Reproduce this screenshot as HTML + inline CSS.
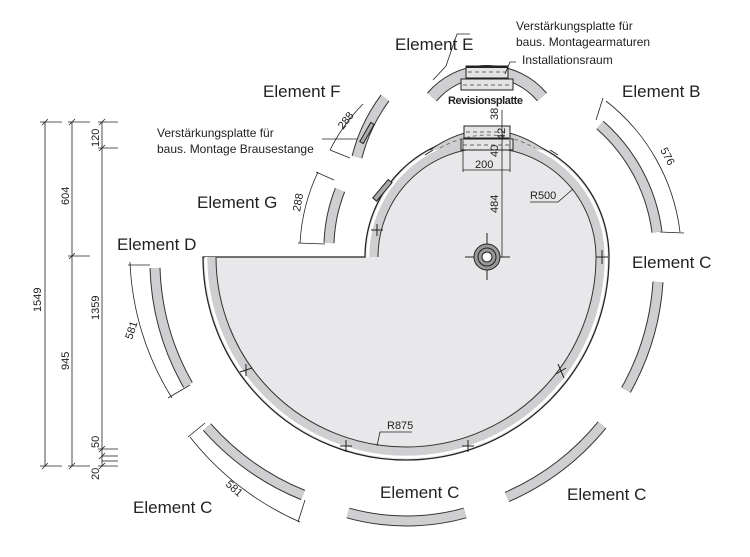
<!DOCTYPE html>
<html><head><meta charset="utf-8"><style>
html,body{margin:0;padding:0;background:#fff;}
svg{display:block;font-family:"Liberation Sans",sans-serif;}
.lbl{font-size:17px;fill:#222;}
.sm{font-size:12px;fill:#222;}
.dim{font-size:11px;fill:#222;}
</style></head><body>
<svg width="750" height="557" viewBox="0 0 750 557" xmlns="http://www.w3.org/2000/svg">
<!-- main shell -->
<path d="M203,257 L365,257 A122,122 0 0 1 609,257 A203,203 0 0 1 203,257 Z" fill="#e8e8ea" stroke="#222" stroke-width="1.3"/>
<path d="M373,257 A114,114 0 0 1 601,257 A195,195 0 0 1 211,257" fill="none" stroke="#333" stroke-width="11"/>
<path d="M373,257 A114,114 0 0 1 601,257 A195,195 0 0 1 211,257" fill="none" stroke="#cfcfd1" stroke-width="9"/>
<path d="M368,257 A119,119 0 0 1 606,257 A200,200 0 0 1 206,257" fill="none" stroke="#fff" stroke-width="2.5"/>
<!-- top bump on shell -->
<path d="M430,150 Q487,110 545,150" fill="#cfcfd1" stroke="#333" stroke-width="1"/>
<rect x="464" y="126" width="46" height="12" fill="#e4e4e4" stroke="#222" stroke-width="1"/>
<rect x="461" y="139" width="52" height="11" fill="#e4e4e4" stroke="#222" stroke-width="1"/>
<line x1="466" y1="132" x2="508" y2="132" stroke="#666" stroke-dasharray="4,3"/>
<line x1="463" y1="145" x2="511" y2="145" stroke="#666" stroke-dasharray="4,3"/>
<path d="M440,148 Q487,122 535,148" fill="none" stroke="#777" stroke-dasharray="4,3"/>
<!-- ticks on shell -->
<g stroke="#222" stroke-width="1">
<line x1="240" y1="372" x2="252" y2="368"/><line x1="246" y1="364" x2="246" y2="376"/>
<line x1="340" y1="446" x2="352" y2="446"/><line x1="346" y1="440" x2="346" y2="452"/>
<line x1="462" y1="446" x2="474" y2="446"/><line x1="468" y1="440" x2="468" y2="452"/>
<line x1="556" y1="374" x2="566" y2="368"/><line x1="558" y1="364" x2="564" y2="378"/>
<line x1="596" y1="257" x2="608" y2="257"/><line x1="602" y1="250" x2="602" y2="264"/>
<line x1="371" y1="230" x2="383" y2="230"/><line x1="377" y1="224" x2="377" y2="236"/>
<line x1="425" y1="155" x2="433" y2="150"/><line x1="550" y1="150" x2="558" y2="155"/>
</g>
<rect x="380" y="178" width="5" height="24" fill="#aaa" stroke="#222" transform="rotate(40 382 190)"/>
<!-- drain -->
<line x1="465" y1="257" x2="510" y2="257" stroke="#222"/>
<line x1="487" y1="233" x2="487" y2="280" stroke="#222"/>
<circle cx="487" cy="257" r="13" fill="#999" stroke="#222"/>
<circle cx="487" cy="257" r="9" fill="none" stroke="#222"/>
<circle cx="487" cy="257" r="5" fill="#fff" stroke="#222"/>
<!-- dims center -->
<line x1="502" y1="110" x2="502" y2="257" stroke="#222" stroke-width="0.8"/>
<line x1="463" y1="170" x2="510" y2="170" stroke="#222" stroke-width="0.8"/>
<line x1="463" y1="140" x2="463" y2="172" stroke="#222" stroke-width="0.8"/>
<line x1="510" y1="140" x2="510" y2="172" stroke="#222" stroke-width="0.8"/>
<text class="dim" x="475" y="168">200</text>
<text class="dim" transform="translate(498,213) rotate(-90)">484</text>
<text class="dim" transform="translate(498,120) rotate(-90)">38</text>
<text class="dim" transform="translate(505,140) rotate(-90)">42</text>
<text class="dim" transform="translate(498,157) rotate(-90)">40</text>
<text class="dim" x="530" y="199">R500</text>
<polyline points="530,202 558,202 573,189" fill="none" stroke="#222" stroke-width="0.8"/>
<text class="dim" x="387" y="429">R875</text>
<polyline points="412,432 380,432 377,446" fill="none" stroke="#222" stroke-width="0.8"/>
<!-- elements -->
<g fill="none">
<g stroke="#333" stroke-width="11">
<path d="M600,125 A172,172 0 0 1 657,232"/>
<path d="M658,282 A254,254 0 0 1 626,390"/>
<path d="M602,425 A256,256 0 0 1 507,497"/>
<path d="M465,513 A218,218 0 0 1 348,513"/>
<path d="M207,427 A258,258 0 0 0 303,495"/>
<path d="M155,268 A252,252 0 0 0 188,385"/>
<path d="M340,190 A160,160 0 0 0 329,243"/>
<path d="M385,98 A170,170 0 0 0 357,157"/>
<path d="M432,97 A72,72 0 0 1 542,97" stroke-width="13"/>
</g>
<g stroke="#cfcfd1" stroke-width="9">
<path d="M600,125 A172,172 0 0 1 657,232"/>
<path d="M658,282 A254,254 0 0 1 626,390"/>
<path d="M602,425 A256,256 0 0 1 507,497"/>
<path d="M465,513 A218,218 0 0 1 348,513"/>
<path d="M207,427 A258,258 0 0 0 303,495"/>
<path d="M155,268 A252,252 0 0 0 188,385"/>
<path d="M340,190 A160,160 0 0 0 329,243"/>
<path d="M385,98 A170,170 0 0 0 357,157"/>
<path d="M432,97 A72,72 0 0 1 542,97" stroke-width="11"/>
</g>
</g>
<rect x="365" y="122" width="4" height="22" fill="#aaa" stroke="#222" transform="rotate(30 367 133)"/>
<!-- element E box -->
<rect x="466" y="66" width="42" height="12" fill="#e4e4e4" stroke="#222"/>
<rect x="461" y="79" width="52" height="11" fill="#e4e4e4" stroke="#222"/>
<line x1="468" y1="72" x2="506" y2="72" stroke="#666" stroke-dasharray="4,3"/>
<line x1="463" y1="85" x2="511" y2="85" stroke="#666" stroke-dasharray="4,3"/>
<line x1="466" y1="67" x2="508" y2="67" stroke="#222" stroke-width="2"/>
<!-- dimension arcs -->
<g fill="none" stroke="#222" stroke-width="0.8">
<path d="M606,101 A196,196 0 0 1 680,232"/>
<line x1="603" y1="98" x2="596" y2="120"/><line x1="660" y1="232" x2="684" y2="233"/>
<path d="M130,262 A276,276 0 0 0 172,398"/>
<line x1="128" y1="265" x2="150" y2="265"/><line x1="168" y1="398" x2="190" y2="385"/>
<path d="M190,437 A284,284 0 0 0 300,522"/>
<line x1="188" y1="437" x2="205" y2="423"/><line x1="298" y1="522" x2="305" y2="500"/>
<path d="M318,172 A190,190 0 0 0 300,243"/>
<line x1="316" y1="172" x2="334" y2="180"/><line x1="298" y1="243" x2="325" y2="244"/>
<path d="M363,104 A180,180 0 0 0 330,150"/>
<line x1="330" y1="150" x2="350" y2="158"/>
<line x1="322" y1="139" x2="357" y2="139"/>
<polyline points="433,80 446,66 457,34 470,34"/>
<polyline points="505,74 510,62 516,62"/>
</g>
<text class="dim" transform="translate(660,150) rotate(62)">576</text>
<text class="dim" transform="translate(132,340) rotate(-72)">581</text>
<text class="dim" transform="translate(225,485) rotate(42)">581</text>
<text class="dim" transform="translate(300,212) rotate(-80)">288</text>
<text class="dim" transform="translate(343,130) rotate(-52)">288</text>
<!-- labels -->
<text class="lbl" x="395" y="50">Element E</text>
<text class="lbl" x="263" y="97">Element F</text>
<text class="lbl" x="622" y="97">Element B</text>
<text class="lbl" x="197" y="208">Element G</text>
<text class="lbl" x="117" y="250">Element D</text>
<text class="lbl" x="632" y="268">Element C</text>
<text class="lbl" x="133" y="513">Element C</text>
<text class="lbl" x="380" y="498">Element C</text>
<text class="lbl" x="567" y="500">Element C</text>
<text class="sm" x="516" y="30">Verstärkungsplatte für</text>
<text class="sm" x="516" y="46">baus. Montagearmaturen</text>
<text class="sm" x="522" y="64">Installationsraum</text>
<text class="dim" x="448" y="104" font-weight="bold" textLength="75">Revisionsplatte</text>
<text class="sm" x="157" y="137">Verstärkungsplatte für</text>
<text class="sm" x="157" y="153">baus. Montage Brausestange</text>
<!-- left dimension chain -->
<g stroke="#222" stroke-width="0.8" fill="none">
<line x1="45" y1="122" x2="45" y2="466"/>
<line x1="72" y1="122" x2="72" y2="466"/>
<line x1="102" y1="122" x2="102" y2="466"/>
<line x1="40" y1="122" x2="62" y2="122"/><line x1="68" y1="122" x2="90" y2="122"/><line x1="98" y1="122" x2="118" y2="122"/>
<line x1="40" y1="466" x2="62" y2="466"/><line x1="68" y1="466" x2="90" y2="466"/><line x1="98" y1="466" x2="118" y2="466"/>
<line x1="68" y1="256" x2="90" y2="256"/>
<line x1="98" y1="148" x2="118" y2="148"/>
<line x1="98" y1="449" x2="118" y2="449"/>
<line x1="102" y1="456" x2="118" y2="456"/><line x1="102" y1="461" x2="118" y2="461"/>
<line x1="42" y1="125" x2="48" y2="119"/><line x1="42" y1="469" x2="48" y2="463"/>
<line x1="69" y1="125" x2="75" y2="119"/><line x1="69" y1="469" x2="75" y2="463"/><line x1="69" y1="259" x2="75" y2="253"/>
<line x1="99" y1="125" x2="105" y2="119"/><line x1="99" y1="151" x2="105" y2="145"/><line x1="99" y1="452" x2="105" y2="446"/><line x1="99" y1="459" x2="105" y2="453"/><line x1="99" y1="469" x2="105" y2="463"/>
</g>
<text class="dim" transform="translate(41,312) rotate(-90)">1549</text>
<text class="dim" transform="translate(69,205) rotate(-90)">604</text>
<text class="dim" transform="translate(69,370) rotate(-90)">945</text>
<text class="dim" transform="translate(99,147) rotate(-90)">120</text>
<text class="dim" transform="translate(99,320) rotate(-90)">1359</text>
<text class="dim" transform="translate(99,448) rotate(-90)">50</text>
<text class="dim" transform="translate(99,480) rotate(-90)">20</text>
</svg>
</body></html>
